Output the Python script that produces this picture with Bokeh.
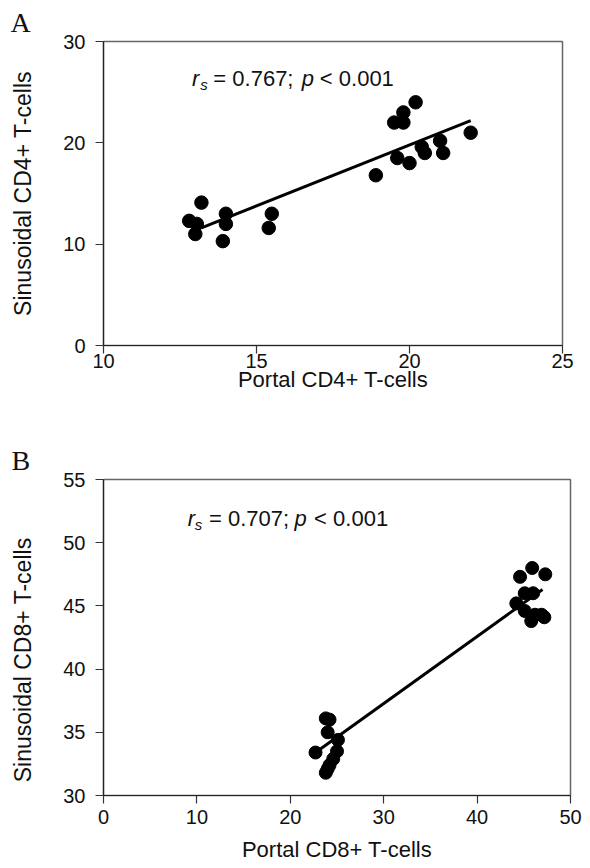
import numpy as np
from bokeh.plotting import figure
from bokeh.models import Range1d, FixedTicker, Label, Title
from bokeh.layouts import column
from bokeh.embed import file_html
from bokeh.resources import INLINE

# ---------------- Panel A data (CD4+) ----------------
portal_cd4 = [12.8, 13.05, 13.0, 13.2, 14.0, 14.0, 13.9, 15.5, 15.4, 18.9,
              19.5, 19.8, 19.8, 20.2, 19.6, 20.0, 20.4, 20.5, 21.0, 21.1, 22.0]
sinus_cd4 = [12.3, 12.0, 11.0, 14.1, 13.0, 12.0, 10.3, 13.0, 11.6, 16.8,
             22.0, 22.0, 23.0, 24.0, 18.5, 18.0, 19.6, 19.0, 20.2, 19.0, 21.0]
fit_cd4_x = [13.2, 22.0]
fit_cd4_y = [11.6, 22.2]
ticks_a_x = [10, 15, 20, 25]
ticks_a_y = [0, 10, 20, 30]
rs_a = "0.767"

# ---------------- Panel B data (CD8+) ----------------
portal_cd8 = [22.7, 23.8, 24.2, 24.0, 25.1, 25.0, 24.6, 24.2, 23.8, 24.0,
              44.6, 45.9, 47.3, 45.1, 46.0, 44.2, 45.1, 45.8, 46.2, 46.9, 47.2]
sinus_cd8 = [33.4, 36.1, 36.0, 35.0, 34.4, 33.5, 32.9, 32.4, 31.8, 32.1,
             47.3, 48.0, 47.5, 46.0, 46.0, 45.2, 44.6, 43.8, 44.3, 44.3, 44.1]
fit_cd8_x = [22.7, 47.0]
fit_cd8_y = [33.4, 46.3]
ticks_b_x = [0, 10, 20, 30, 40, 50]
ticks_b_y = [30, 35, 40, 45, 50, 55]
rs_b = "0.707"

FONT = "Liberation Sans"
SERIF = "Liberation Serif"


def style(p, xstand, xlab_stand):
    p.grid.visible = False
    p.background_fill_color = "white"
    p.border_fill_color = "white"
    p.outline_line_color = "#666666"
    p.outline_line_width = 1.5
    for ax in (p.xaxis, p.yaxis):
        ax.axis_line_color = "#222222"
        ax.axis_line_width = 1.2
        ax.major_tick_line_color = "#333333"
        ax.major_tick_line_width = 1.2
        ax.major_tick_in = 0
        ax.major_tick_out = 8
        ax.minor_tick_line_color = None
        ax.major_label_text_font = FONT
        ax.major_label_text_font_size = "20px"
        ax.major_label_text_color = "#111111"
        ax.axis_label_text_font = FONT
        ax.axis_label_text_font_style = "normal"
        ax.axis_label_text_color = "#111111"
    p.xaxis.axis_label_text_font_size = "22px"
    p.yaxis.axis_label_text_font_size = "23px"
    p.xaxis.major_label_standoff = xstand
    p.xaxis.axis_label_standoff = xlab_stand
    p.yaxis.major_label_standoff = 10
    p.yaxis.axis_label_standoff = 24


def add_stat(p, rs, xr, xs, xeq, xp, xlt, yb, ys):
    common = dict(text_font=FONT, text_color="#111111", text_baseline="alphabetic",
                  text_align="left")
    p.add_layout(Label(x=xr, y=yb, text="r", text_font_size="22px",
                       text_font_style="italic", **common))
    p.add_layout(Label(x=xs, y=ys, text="s", text_font_size="15px",
                       text_font_style="italic", **common))
    p.add_layout(Label(x=xeq, y=yb, text="= " + rs + ";", text_font_size="22px", **common))
    p.add_layout(Label(x=xp, y=yb, text="p", text_font_size="22px",
                       text_font_style="italic", **common))
    p.add_layout(Label(x=xlt, y=yb, text="< 0.001", text_font_size="22px", **common))


def panel_title(text, offset, standoff):
    return Title(text=text, align="left", offset=offset, standoff=standoff,
                 text_font=SERIF, text_font_size="28px", text_font_style="normal",
                 text_color="#111111")


# ---------------- Panel A ----------------
pa = figure(width=582, height=423, output_backend="svg", toolbar_location=None,
            x_range=Range1d(10, 25), y_range=Range1d(0, 30),
            min_border_left=103, min_border_right=20, min_border_top=40, min_border_bottom=78,
            x_axis_label="Portal CD4+ T-cells", y_axis_label="Sinusoidal CD4+ T-cells")
pa.title = panel_title("A", -93, 8)
style(pa, 0, -4)
pa.xaxis.ticker = FixedTicker(ticks=ticks_a_x)
pa.yaxis.ticker = FixedTicker(ticks=ticks_a_y)
pa.line(fit_cd4_x, fit_cd4_y, line_width=3, color="black")
pa.scatter(portal_cd4, sinus_cd4, size=13.5, color="black")
add_stat(pa, rs_a, 12.89, 13.16, 13.59, 16.48, 17.07, 26.39, 25.77)

# ---------------- Panel B ----------------
# trailing non-breaking spaces shift the rotated label down, as in the original
pb = figure(width=590, height=445, output_backend="svg", toolbar_location=None,
            x_range=Range1d(0, 50), y_range=Range1d(30, 55),
            min_border_left=101, min_border_right=15, min_border_top=56, min_border_bottom=73,
            x_axis_label="Portal CD8+ T-cells",
            y_axis_label="Sinusoidal CD8+ T-cells" + "\u00a0" * 7)
pb.title = panel_title("B", -92, 7)
style(pb, 6, 10)
pb.xaxis.ticker = FixedTicker(ticks=ticks_b_x)
pb.yaxis.ticker = FixedTicker(ticks=ticks_b_y)
pb.line(fit_cd8_x, fit_cd8_y, line_width=3, color="black")
pb.scatter(portal_cd8, sinus_cd8, size=13, color="black")
add_stat(pb, rs_b, 9.01, 9.78, 11.29, 20.45, 22.55, 51.89, 51.44)

layout = column(pa, pb, spacing=0)
open("out.html", "w").write(file_html(layout, INLINE))
